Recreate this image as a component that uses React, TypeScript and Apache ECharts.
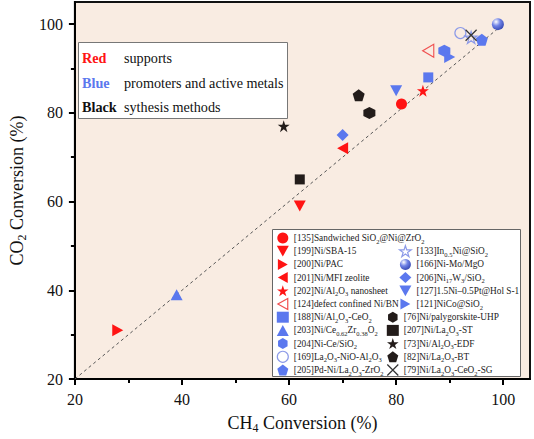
import React, { useEffect, useRef } from "react";
import * as echarts from "echarts";

// ---- data ----
const seriesNames = [
  "[135]Sandwiched SiO2@Ni@ZrO2",
  "[199]Ni/SBA-15",
  "[200]Ni/PAC",
  "[201]Ni/MFI zeolite",
  "[202]Ni/Al2O3 nanosheet",
  "[124]defect confined Ni/BN",
  "[188]Ni/Al2O3-CeO2",
  "[203]Ni/Ce0.62Zr0.38O2",
  "[204]Ni-Ce/SiO2",
  "[169]La2O3-NiO-Al2O3",
  "[205]Pd-Ni/La2O3-ZrO2",
  "[133]In0.5Ni@SiO2",
  "[166]Ni-Mo/MgO",
  "[206]Ni17W3/SiO2",
  "[127]1.5Ni–0.5Pt@Hol S-1",
  "[121]NiCo@SiO2",
  "[76]Ni/palygorskite-UHP",
  "[207]Ni/La2O3-ST",
  "[73]Ni/Al2O3-EDF",
  "[82]Ni/La2O3-BT",
  "[79]Ni/La2O3-CeO2-SG",
];
const richLabels = [
  "[135]Sandwiched SiO{s|2}@Ni@ZrO{s|2}",
  "[199]Ni/SBA-15",
  "[200]Ni/PAC",
  "[201]Ni/MFI zeolite",
  "[202]Ni/Al{s|2}O{s|3} nanosheet",
  "[124]defect confined Ni/BN",
  "[188]Ni/Al{s|2}O{s|3}-CeO{s|2}",
  "[203]Ni/Ce{s|0.62}Zr{s|0.38}O{s|2}",
  "[204]Ni-Ce/SiO{s|2}",
  "[169]La{s|2}O{s|3}-NiO-Al{s|2}O{s|3}",
  "[205]Pd-Ni/La{s|2}O{s|3}-ZrO{s|2}",
  "[133]In{s|0.5}Ni@SiO{s|2}",
  "[166]Ni-Mo/MgO",
  "[206]Ni{s|17}W{s|3}/SiO{s|2}",
  "[127]1.5Ni–0.5Pt@Hol S-1",
  "[121]NiCo@SiO{s|2}",
  "[76]Ni/palygorskite-UHP",
  "[207]Ni/La{s|2}O{s|3}-ST",
  "[73]Ni/Al{s|2}O{s|3}-EDF",
  "[82]Ni/La{s|2}O{s|3}-BT",
  "[79]Ni/La{s|2}O{s|3}-CeO{s|2}-SG",
];
const ch4Conversion = [81, 62, 28, 70, 85, 86, 86, 39, 89, 92, 96, 94, 99, 70, 80, 90, 75, 62, 59, 73, 94];
const co2Conversion = [82, 59, 31, 72, 85, 94, 88, 39, 94, 98, 96.5, 97, 100, 75, 85, 92.6, 80, 65, 77, 84, 97.5];
const groups = ["red", "red", "red", "red", "red", "red", "blue", "blue", "blue", "blue", "blue", "blue", "blue", "blue", "blue", "blue", "black", "black", "black", "black", "black"];
const shapes = [
  "circle", "down", "right", "left", "star", "leftHollow",
  "rect", "triangle", "hexagon", "circleHollow", "pentagon", "starHollow", "sphere", "diamond", "down", "right",
  "hexagon", "rect", "star", "pentagon", "cross",
];
const diagonal = [20, 100];
const xTicks = [20, 40, 60, 80, 100];
const xMinor = [30, 50, 70, 90];
const yTicks = [20, 40, 60, 80, 100];
const yMinor = [30, 50, 70, 90];
const noteKeys = ["Red", "Blue", "Black"];
const noteTexts = ["supports", "promoters and active metals", "sythesis methods"];

const COLORS: Record<string, string> = { red: "#ff1414", blue: "#5b78ee", black: "#231c1a" };
const FONT = "Liberation Serif";

const P = {
  star: "path://M5,0 L6.18,3.62 L10,3.62 L6.91,5.86 L8.09,9.51 L5,7.27 L1.91,9.51 L3.09,5.86 L0,3.62 L3.82,3.62 Z",
  down: "path://M0,0 L10,0 L5,9 Z",
  right: "path://M0,0 L9,5 L0,10 Z",
  left: "path://M9,0 L0,5 L9,10 Z",
  hexagon: "path://M5,0 L9.33,2.5 L9.33,7.5 L5,10 L0.67,7.5 L0.67,2.5 Z",
  pentagon: "path://M5,0 L10,3.8 L8.1,10 L1.9,10 L0,3.8 Z",
  cross: "path://M0,0 L10,10 M10,0 L0,10",
};

function markerFor(shape: string, color: string): any {
  const hollow = { color: "rgba(255,255,255,0)", borderColor: color, borderWidth: 1.2 };
  switch (shape) {
    case "circle": return { symbol: "circle", size: 11, style: { color } };
    case "circleHollow": return { symbol: "circle", size: 11, style: { ...hollow, borderColor: "#8c9ae8" } };
    case "down": return { symbol: P.down, size: [12, 11], style: { color } };
    case "right": return { symbol: P.right, size: [11, 12], style: { color } };
    case "left": return { symbol: P.left, size: [11, 12], style: { color } };
    case "leftHollow": return { symbol: P.left, size: [11, 13], style: { ...hollow, borderColor: "#f05050" } };
    case "star": return { symbol: P.star, size: 12, style: { color } };
    case "starHollow": return { symbol: P.star, size: 12, style: { ...hollow, borderColor: "#8c9ae8" } };
    case "rect": return { symbol: "rect", size: 10, style: { color } };
    case "triangle": return { symbol: "triangle", size: [12, 11], style: { color } };
    case "hexagon": return { symbol: P.hexagon, size: 12, style: { color } };
    case "pentagon": return { symbol: P.pentagon, size: 12, style: { color } };
    case "diamond": return { symbol: "diamond", size: 12, style: { color } };
    case "cross": return { symbol: P.cross, size: 11, style: { color: "rgba(0,0,0,0)", borderColor: "#333", borderWidth: 1.2 } };
    case "sphere":
      return {
        symbol: "circle", size: 12,
        style: {
          color: new echarts.graphic.RadialGradient(0.35, 0.3, 0.7, [
            { offset: 0, color: "#ffffff" },
            { offset: 0.5, color: "#6f82e6" },
            { offset: 1, color: "#3d4fb8" },
          ]),
        },
      };
  }
  return { symbol: "circle", size: 10, style: { color } };
}

export default function App() {
  const ref = useRef<HTMLDivElement>(null);
  useEffect(() => {
    if (!ref.current) return;
    const chart = echarts.init(ref.current, null, { renderer: "svg" });
    const labelMap: Record<string, string> = {};
    seriesNames.forEach((n, i) => (labelMap[n] = richLabels[i]));

    const scatter = seriesNames.map((name, i) => {
      const m = markerFor(shapes[i], COLORS[groups[i]]);
      return {
        type: "scatter",
        name,
        xAxisIndex: 0,
        yAxisIndex: 0,
        symbol: m.symbol,
        symbolSize: m.size,
        itemStyle: { opacity: 1, ...m.style },
        data: [[ch4Conversion[i], co2Conversion[i]]],
        z: 3,
      };
    });

    const rowH = 13.2;
    const legendText = {
      fontFamily: FONT,
      fontSize: 9.3,
      color: "#222",
      lineHeight: rowH,
      rich: {
        s: { fontFamily: FONT, fontSize: 6.5, color: "#222", lineHeight: rowH, verticalAlign: "bottom" },
      },
    };
    const legendBase = {
      orient: "vertical",
      padding: 0,
      itemGap: 0,
      itemWidth: 12,
      itemHeight: 11,
      selectedMode: false,
      textStyle: legendText,
      itemStyle: { borderWidth: "inherit" },
      formatter: (n: string) => labelMap[n] || n,
      z: 10,
    };
    const col1 = seriesNames.slice(0, 11);
    const col2 = seriesNames.slice(11, 16);
    const col3 = seriesNames.slice(16, 21);

    const axisCommon = {
      type: "value",
      min: 20,
      max: 105,
      splitLine: { show: false },
    };
    const nameRich = {
      n: { fontFamily: FONT, fontSize: 18, color: "#111", lineHeight: 22 },
      s: { fontFamily: FONT, fontSize: 12, color: "#111", lineHeight: 22, verticalAlign: "bottom" },
    };

    const option: any = {
      animation: false,
      backgroundColor: "#ffffff",
      textStyle: { fontFamily: FONT },
      grid: {
        left: 57, right: 4, top: 2, bottom: 55,
        show: true, backgroundColor: "#f9ece2", borderColor: "#111", borderWidth: 2,
      },
      xAxis: [
        {
          ...axisCommon,
          position: "bottom",
          name: "{n|CH}{s|4}{n| Conversion (%)}",
          nameLocation: "middle",
          nameGap: 33,
          nameTextStyle: { fontFamily: FONT, rich: nameRich },
          axisLine: { onZero: false, lineStyle: { color: "#000", width: 2 } },
          axisTick: { customValues: xTicks, length: 6, lineStyle: { color: "#000", width: 2 } },
          axisLabel: { customValues: xTicks, margin: 12, fontFamily: FONT, fontSize: 16, color: "#111" },
        },
        {
          ...axisCommon,
          position: "bottom",
          axisLine: { show: false },
          axisTick: { customValues: xMinor, length: 4, lineStyle: { color: "#000", width: 2 } },
          axisLabel: { show: false },
        },
      ],
      yAxis: [
        {
          ...axisCommon,
          position: "left",
          name: "{n|CO}{s|2}{n| Conversion (%)}",
          nameLocation: "middle",
          nameGap: 35,
          nameRotate: 90,
          nameTextStyle: { fontFamily: FONT, rich: nameRich },
          axisLine: { onZero: false, lineStyle: { color: "#000", width: 2 } },
          axisTick: { customValues: yTicks, length: 6, lineStyle: { color: "#000", width: 2 } },
          axisLabel: { customValues: yTicks, margin: 12, fontFamily: FONT, fontSize: 16, color: "#111" },
        },
        {
          ...axisCommon,
          position: "left",
          axisLine: { show: false },
          axisTick: { customValues: yMinor, length: 4, lineStyle: { color: "#000", width: 2 } },
          axisLabel: { show: false },
        },
      ],
      legend: [
        { ...legendBase, data: col1, left: 276.7, top: 238 - rowH / 2 },
        { ...legendBase, data: col2, left: 399, top: 251.2 - rowH / 2 },
        { ...legendBase, data: col3, left: 386.7, top: 251.2 + 5 * rowH - rowH / 2 },
      ],
      graphic: [
        {
          type: "rect",
          z: 5,
          shape: { x: 272.5, y: 229.5, width: 248, height: 147 },
          style: { fill: "#ffffff", stroke: "#666", lineWidth: 1 },
          silent: true,
        },
        {
          type: "group",
          z: 5,
          silent: true,
          children: [
            {
              type: "rect",
              shape: { x: 78.5, y: 42.5, width: 209, height: 76 },
              style: { fill: "#ffffff", stroke: "#777", lineWidth: 1 },
            },
            ...noteKeys.map((k, i) => ({
              type: "text",
              x: 82,
              y: 58.3 + i * 24.5,
              style: {
                text: k,
                fontFamily: FONT,
                fontSize: 14.2,
                fontWeight: "bold",
                fill: [COLORS.red, "#5b78ee", "#111"][i],
                verticalAlign: "middle",
              },
            })),
            ...noteTexts.map((t, i) => ({
              type: "text",
              x: 124,
              y: 58.3 + i * 24.5,
              style: { text: t, fontFamily: FONT, fontSize: 14.2, fill: "#111", verticalAlign: "middle" },
            })),
          ],
        },
      ],
      series: [
        {
          type: "line",
          name: "diagonal",
          data: [[diagonal[0], diagonal[0]], [diagonal[1], diagonal[1]]],
          symbol: "none",
          silent: true,
          lineStyle: { color: "#555", width: 1, type: [3, 3] },
          z: 2,
        },
        ...scatter,
      ],
    };
    chart.setOption(option);
    return () => chart.dispose();
  }, []);
  return <div ref={ref} style={{ position: "absolute", left: 0, top: 0, width: 534, height: 439 }} />;
}
